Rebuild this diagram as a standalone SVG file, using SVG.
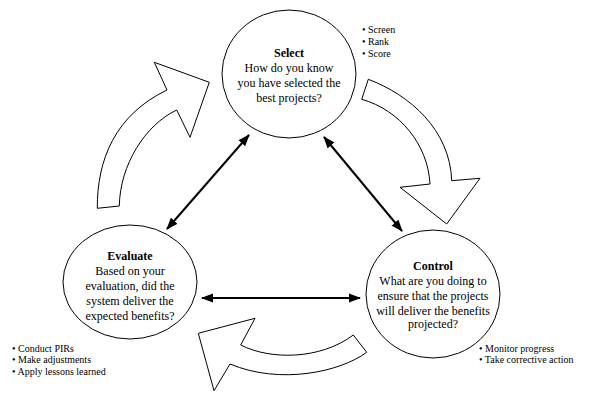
<svg xmlns="http://www.w3.org/2000/svg" width="594" height="416" viewBox="0 0 594 416" font-family="'Liberation Serif', 'DejaVu Serif', serif">
<style>
.node{fill:#fff;stroke:#000;stroke-width:1}
.t{font-size:12px;fill:#000;text-anchor:middle}
.h{font-weight:bold}
.b{font-size:10px;fill:#000}
.blk{fill:#fff;stroke:#000;stroke-width:1;stroke-linejoin:miter}
.con{stroke:#000;stroke-width:2;fill:none;marker-start:url(#ah);marker-end:url(#ah)}
</style>
<defs>
<marker id="ah" markerUnits="userSpaceOnUse" markerWidth="12" markerHeight="10" refX="11" refY="4.5" orient="auto-start-reverse" viewBox="0 0 12 9">
<path d="M0,0 L12,4.5 L0,9 Z" fill="#000"/>
</marker>
</defs>
<rect width="594" height="416" fill="#fff"/>
<g id="cycle-arrows">
<path class="blk" d="M97.3,208.3 C97,160 115,115 167,90 L154.3,62.3 L209.3,82.3 L190,137.3 L176.7,110 C145,125 120,165 119.3,206 Z"/>
<path class="blk" d="M368.3,79.3 C410,95 450,130 451.7,180.7 L480,178.3 L446.7,224 L400,187.3 L430,184 C428,145 400,110 361.7,99.3 Z"/>
<path class="blk" d="M366.7,352.3 C340,372 280,385 230,364 L214,390.7 L198.3,333.3 L255,318.3 L240.7,345 C270,360 320,360 353.3,335 Z"/>
</g>
<g id="connectors">
<line class="con" x1="167" y1="229" x2="249" y2="135"/>
<line class="con" x1="324" y1="137" x2="402" y2="231"/>
<line class="con" x1="202" y1="298" x2="360" y2="298"/>
</g>
<g id="select">
<ellipse class="node" cx="289" cy="74" rx="67" ry="64"/>
<text class="t h" x="289" y="57">Select</text>
<text class="t" x="289" y="72">How do you know</text>
<text class="t" x="289" y="87">you have selected the</text>
<text class="t" x="289" y="102">best projects?</text>
<text class="b" x="362" y="33">• Screen</text>
<text class="b" x="362" y="45">• Rank</text>
<text class="b" x="362" y="57">• Score</text>
</g>
<g id="evaluate">
<ellipse class="node" cx="130" cy="282" rx="67" ry="57"/>
<text class="t h" x="130" y="260">Evaluate</text>
<text class="t" x="130" y="275">Based on your</text>
<text class="t" x="130" y="290">evaluation, did the</text>
<text class="t" x="130" y="305">system deliver the</text>
<text class="t" x="130" y="320">expected benefits?</text>
<text class="b" x="12" y="352">• Conduct PIRs</text>
<text class="b" x="12" y="363">• Make adjustments</text>
<text class="b" x="12" y="375">• Apply lessons learned</text>
</g>
<g id="control">
<ellipse class="node" cx="433" cy="294" rx="67" ry="64"/>
<text class="t h" x="433" y="270">Control</text>
<text class="t" x="433" y="285">What are you doing to</text>
<text class="t" x="433" y="300">ensure that the projects</text>
<text class="t" x="433" y="315">will deliver the benefits</text>
<text class="t" x="433" y="328">projected?</text>
<text class="b" x="479" y="352">• Monitor progress</text>
<text class="b" x="479" y="363">• Take corrective action</text>
</g>
</svg>
